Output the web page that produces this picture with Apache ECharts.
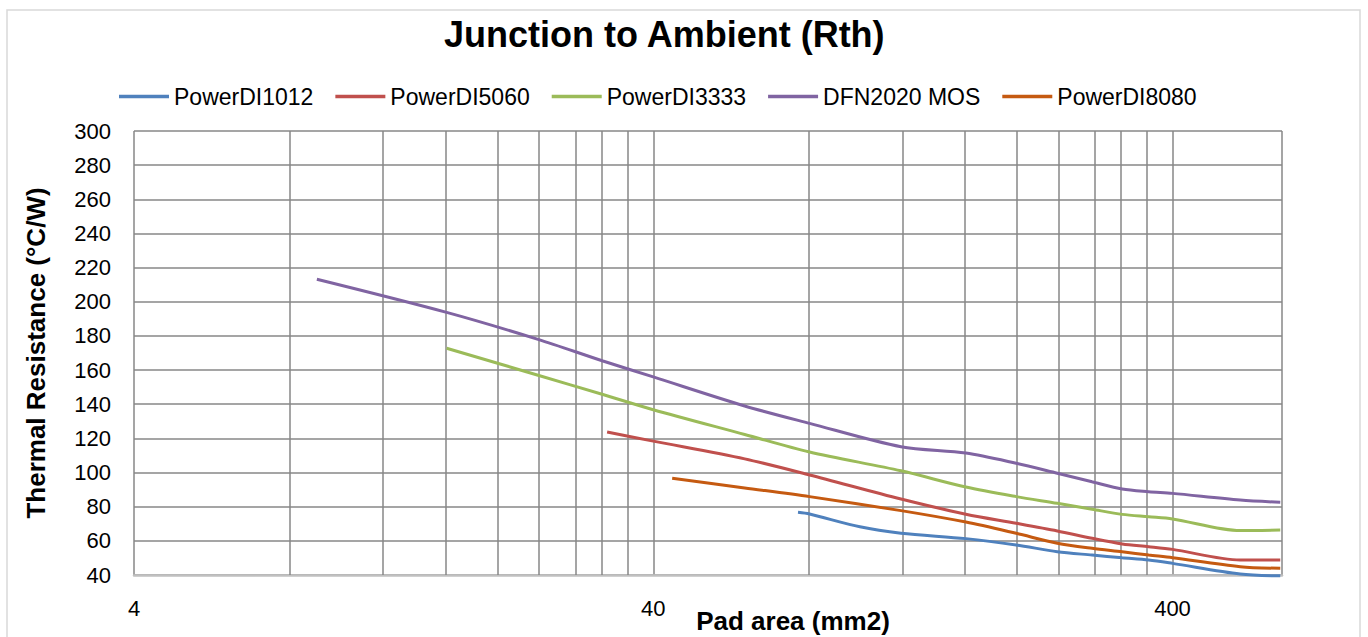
<!DOCTYPE html>
<html>
<head>
<meta charset="utf-8">
<script src="https://cdn.jsdelivr.net/npm/echarts@6/dist/echarts.min.js"></script>
<style>
html,body{margin:0;padding:0;background:#fff;}
#chart{width:1368px;height:637px;}
</style>
</head>
<body>
<div id="chart"></div>
<script>
// ---- chart text ----
const chartTitle = 'Junction to Ambient (Rth)';
const xAxisTitle = 'Pad area (mm2)';
const yAxisTitle = 'Thermal Resistance (°C/W)';

// ---- axes ----
const xMin = 4, xMax = 650;
const xLabelTicks = [4, 40, 400];
const xMinorGrid = [8, 12, 16, 20, 24, 28, 32, 36, 80, 120, 160, 200, 240, 280, 320, 360];
const yMin = 40, yMax = 300, yStep = 20;

// ---- series ----
const seriesNames = ['PowerDI1012', 'PowerDI5060', 'PowerDI3333', 'DFN2020 MOS', 'PowerDI8080'];

const areaPowerDI1012 = [76, 80, 100, 120, 160, 200, 240, 280, 320, 360, 400, 540, 645];
const rthPowerDI1012  = [76.7, 75.7, 68.2, 64.5, 61.3, 57.6, 53.6, 51.7, 50.1, 48.8, 46.8, 40.6, 39.5];

const areaPowerDI5060 = [32.6, 40, 60, 80, 120, 160, 200, 240, 280, 320, 360, 400, 540, 645];
const rthPowerDI5060  = [123.7, 118.4, 108, 98.6, 84.5, 75.6, 70.3, 65.8, 61.5, 58.2, 56.6, 55, 48.8, 48.8];

const areaPowerDI3333 = [16, 24, 32, 40, 60, 80, 120, 160, 200, 240, 280, 320, 360, 400, 540, 645];
const rthPowerDI3333  = [172.8, 157, 145.7, 136.8, 122.3, 112, 101, 91.5, 85.9, 82, 78.5, 75.5, 74.1, 72.8, 66, 66.3];

const areaDFN2020 = [9, 16, 24, 32, 40, 60, 80, 120, 160, 200, 240, 280, 320, 360, 400, 540, 645];
const rthDFN2020  = [213.2, 193.8, 178, 165.3, 156, 139, 128.8, 115.1, 111.4, 105.4, 99.6, 94.6, 90.4, 88.8, 87.8, 83.9, 82.6];

const areaPowerDI8080 = [43.5, 60, 80, 120, 160, 200, 240, 280, 320, 360, 400, 540, 645];
const rthPowerDI8080  = [96.7, 91, 85.9, 77.7, 71, 64.4, 58.6, 55.6, 53.6, 51.7, 50.1, 44.9, 43.9];

const seriesAreas = [areaPowerDI1012, areaPowerDI5060, areaPowerDI3333, areaDFN2020, areaPowerDI8080];
const seriesRth   = [rthPowerDI1012, rthPowerDI5060, rthPowerDI3333, rthDFN2020, rthPowerDI8080];
const seriesColors = ['#4f81bd', '#c0504d', '#9bbb59', '#8064a2', '#c55a11'];

// log-10 axis position measured in decades above xMin
const toAxis = a => Math.log10(a / xMin);
const FONT = '"Liberation Sans", Arial, sans-serif';
const GRID_COLOR = '#878787';

const lineSeries = seriesNames.map((name, i) => ({
  name: name,
  type: 'line',
  data: seriesAreas[i].map((a, j) => [toAxis(a), seriesRth[i][j]]),
  smooth: 0.3,
  symbol: 'none',
  clip: false,
  z: 3,
  lineStyle: { color: seriesColors[i], width: 3 },
  itemStyle: { color: seriesColors[i] },
  emphasis: { disabled: true }
}));

const minorGridSeries = {
  type: 'line',
  data: [],
  z: 1,
  silent: true,
  markLine: {
    z: 1,
    silent: true,
    animation: false,
    symbol: ['none', 'none'],
    label: { show: false },
    emphasis: { disabled: true },
    lineStyle: { color: GRID_COLOR, width: 1.5, type: 'solid' },
    data: xMinorGrid.map(v => ({ xAxis: toAxis(v) }))
  }
};

const chart = echarts.init(document.getElementById('chart'), null, { renderer: 'svg' });
chart.setOption({
  animation: false,
  backgroundColor: '#ffffff',
  textStyle: { fontFamily: FONT, color: '#000' },
  title: {
    text: chartTitle,
    left: 439,
    top: 11,
    textStyle: { fontFamily: FONT, fontSize: 36, fontWeight: 'bold', color: '#000' }
  },
  legend: {
    data: seriesNames,
    left: 114,
    top: 80,
    icon: 'rect',
    itemWidth: 50,
    itemHeight: 3.5,
    itemGap: 22,
    textStyle: { fontFamily: FONT, fontSize: 23, color: '#000' }
  },
  grid: { left: 134, right: 86, top: 131, bottom: 62, containLabel: false },
  xAxis: {
    type: 'value',
    min: toAxis(xMin),
    max: toAxis(xMax),
    interval: 1,
    axisLine: { show: true, lineStyle: { color: '#c0c0c0', width: 2.5 } },
    axisTick: { show: false },
    splitLine: { show: true, lineStyle: { color: GRID_COLOR, width: 1.5 } },
    axisLabel: {
      margin: 22,
      fontSize: 22,
      fontFamily: FONT,
      color: '#000',
      showMaxLabel: false,
      formatter: v => {
        const a = xMin * Math.pow(10, v);
        const hit = xLabelTicks.find(t => Math.abs(t - a) / t < 0.02);
        return hit ? String(hit) : '';
      }
    }
  },
  yAxis: {
    type: 'value',
    min: yMin,
    max: yMax,
    interval: yStep,
    name: yAxisTitle,
    nameLocation: 'middle',
    nameGap: 85,
    nameTextStyle: { fontFamily: FONT, fontSize: 26, fontWeight: 'bold', color: '#000' },
    axisLine: { show: false },
    axisTick: { show: false },
    splitLine: { show: true, lineStyle: { color: GRID_COLOR, width: 1.5 } },
    axisLabel: { margin: 23, fontSize: 22, fontFamily: FONT, color: '#000' }
  },
  graphic: [
    {
      type: 'rect',
      silent: true,
      z: -10,
      shape: { x: 7, y: 10, width: 1353, height: 640 },
      style: { fill: 'none', stroke: '#d9d9d9', lineWidth: 1.5 }
    },
    {
      type: 'text',
      silent: true,
      x: 793,
      y: 621,
      style: {
        text: xAxisTitle,
        fontFamily: FONT,
        fontSize: 26,
        fontWeight: 'bold',
        fill: '#000',
        align: 'center',
        verticalAlign: 'middle'
      }
    }
  ],
  series: [minorGridSeries].concat(lineSeries)
});
</script>
</body>
</html>
